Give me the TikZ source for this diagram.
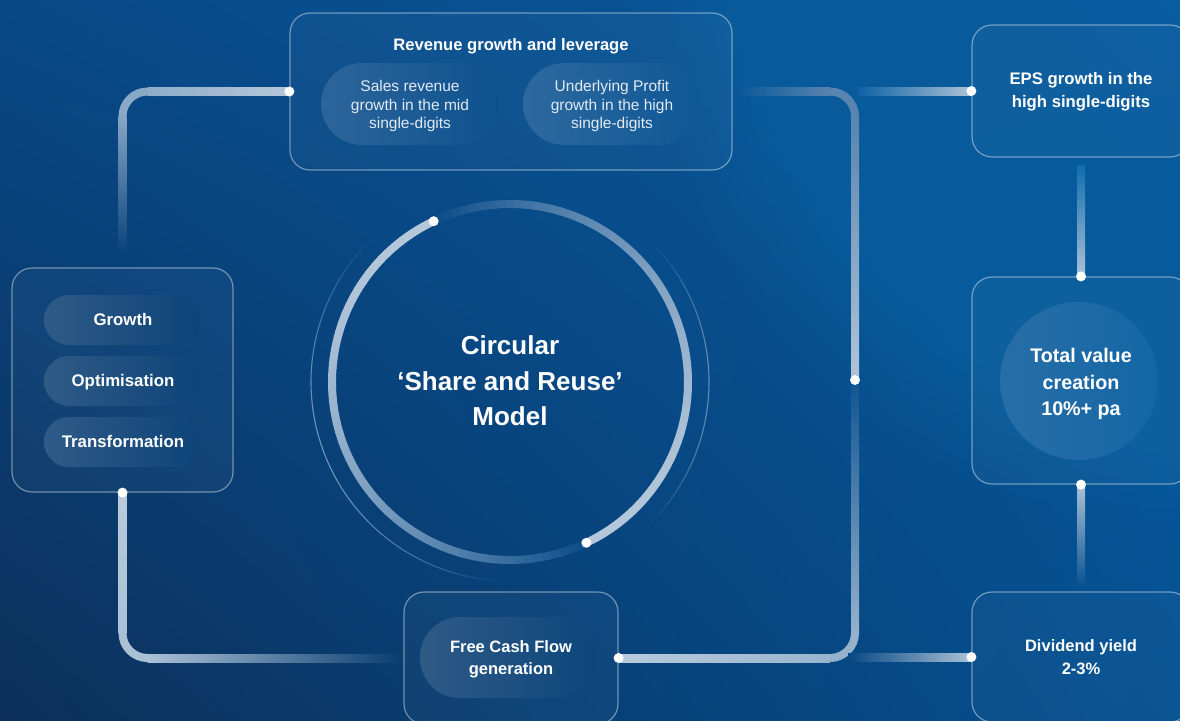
\documentclass[tikz,border=0pt]{standalone}
\usepackage{fontspec}
\setmainfont{Liberation Sans}
\usetikzlibrary{shadings}
\definecolor{lc}{RGB}{200,214,228}
\definecolor{bgc}{RGB}{7,73,136}
\definecolor{bgUL}{RGB}{8,72,135}
\definecolor{bgUR}{RGB}{8,92,160}
\definecolor{bgLL}{RGB}{12,48,90}
\definecolor{bgLR}{RGB}{4,80,146}
\definecolor{hl}{RGB}{28,140,205}
\definecolor{pillc}{RGB}{226,234,243}
% local background estimates
\definecolor{b1}{RGB}{9,66,123}
\definecolor{b2}{RGB}{9,61,112}
\definecolor{b3}{RGB}{7,78,141}
\definecolor{b4}{RGB}{10,88,153}
\definecolor{b5}{RGB}{13,98,164}
\definecolor{b6}{RGB}{6,72,132}
\definecolor{b7}{RGB}{15,108,174}
\definecolor{b8}{RGB}{5,80,144}
\definecolor{pA}{RGB}{8,74,137}
\definecolor{pB}{RGB}{8,78,140}
\definecolor{pC}{RGB}{8,78,141}
\definecolor{pD}{RGB}{9,84,148}
\definecolor{pE}{RGB}{10,61,113}
\definecolor{pF}{RGB}{9,64,118}
\definecolor{pG}{RGB}{9,61,112}
\definecolor{pH}{RGB}{8,66,121}
\definecolor{pI}{RGB}{10,90,155}
\definecolor{pJ}{RGB}{10,96,162}
\begin{document}
\begin{tikzpicture}[x=1pt,y=-1pt,
  box/.style={rectangle, draw=white, draw opacity=.42, line width=1.2pt, fill=white, fill opacity=.03, rounded corners=20pt, inner sep=0pt},
  cornerline/.style={line width=8pt},
  dot/.style={fill=white},
  t/.style={text=white, align=center, inner sep=0pt}]
\useasboundingbox (0,0) rectangle (1180,720);
\clip (0,0) rectangle (1180,720);
% background
\shade[upper left=bgUL, upper right=bgUR, lower left=bgLL, lower right=bgLR] (0,0) rectangle (1180,720);
\foreach \k in {1,...,40} \fill[hl, fill opacity=.02] (1180,0) circle ({13*\k});
% boxes
\node[box, minimum width=442pt, minimum height=157pt] (rev) at (511,91.5) {};
\node[box, minimum width=221pt, minimum height=224pt] (strat) at (122.5,380) {};
\node[box, minimum width=218pt, minimum height=132pt] (eps) at (1081,91) {};
\node[box, minimum width=218pt, minimum height=207pt] (tvc) at (1081,380.5) {};
\node[box, minimum width=218pt, minimum height=130pt] (div) at (1081,657) {};
\node[box, minimum width=214pt, minimum height=132pt] (fcf) at (511,658) {};
% pills
\shade[left color=white!15!pA, right color=white!2!pB, rounded corners=41pt] (321,63) rectangle (499,145);
\shade[left color=white!15!pC, right color=white!2!pD, rounded corners=41pt] (523,63) rectangle (701,145);
\shade[left color=white!15!pE, right color=white!2!pF, rounded corners=25pt] (44,295) rectangle (200,345);
\shade[left color=white!15!pE, right color=white!2!pF, rounded corners=25pt] (44,356) rectangle (200,406);
\shade[left color=white!15!pE, right color=white!2!pF, rounded corners=25pt] (44,417) rectangle (200,467);
\shade[left color=white!15!pG, right color=white!2!pH, rounded corners=40pt] (420,617) rectangle (598,698);
\shade[left color=white!12!pI, right color=white!4!pJ] (1079,381) circle (79);
% connectors
\coordinate (hub) at (855,380);
\shade[left color=lc!70!bgc, right color=lc!90!bgc] (147.5,87.5) rectangle (290,95.5);
\draw[cornerline, draw=lc!68!bgc] (147.5,91.5) arc[start angle=270, end angle=180, radius=25];
\shade[top color=lc!66!bgc, bottom color=b1] (118.5,116.5) rectangle (126.5,252);
\shade[top color=lc!92!bgc, bottom color=lc!85!bgc] (118.5,492) rectangle (126.5,633);
\draw[cornerline, draw=lc!85!bgc] (122.5,633) arc[start angle=180, end angle=90, radius=25];
\shade[left color=lc!85!bgc, middle color=lc!52!b2, right color=b2] (147.5,654) rectangle (402,662);
\shade[left color=lc!92!bgc, right color=lc!76!bgc] (618,654) rectangle (830,662);
\draw[cornerline, draw=lc!74!bgc] (830,658) arc[start angle=90, end angle=0, radius=25];
\shade[top color=lc!6!b3, middle color=lc!42!bgc, bottom color=lc!74!bgc] (851,385) rectangle (859,633);
\shade[top color=lc!42!bgc, bottom color=lc!88!bgc] (851,116.5) rectangle (859,380);
\draw[cornerline, draw=lc!42!bgc] (855,116.5) arc[start angle=0, end angle=-90, radius=25];
\shade[left color=b4, right color=lc!42!bgc] (738,87.5) rectangle (830,95.5);
\shade[left color=b5, right color=lc!86!bgc] (858,87) rectangle (972,95);
\shade[left color=b6, right color=lc!86!bgc] (848,653) rectangle (972,661);
\shade[top color=b7, bottom color=lc!86!bgc] (1077,165) rectangle (1085,277);
\shade[top color=lc!86!bgc, bottom color=b8] (1077,484) rectangle (1085,588);
% central rings
\coordinate (cc) at (510,382);
\foreach \i in {0,...,43}{
  \pgfmathsetmacro\a{226-3*\i}
  \pgfmathsetmacro\p{42*sin(180*(\i+0.5)/44)}
  \draw[line width=1.1pt, color=white!\p!bgc] (cc) ++(\a:199) arc[start angle=\a, delta angle=-3.05, radius=199];
}
\foreach \i in {0,...,29}{
  \pgfmathsetmacro\a{-45+3*\i}
  \pgfmathsetmacro\p{38*sin(180*(\i+0.5)/30)}
  \draw[line width=1.1pt, color=white!\p!bgc] (cc) ++(\a:199) arc[start angle=\a, delta angle=3.05, radius=199];
}
\foreach \i in {0,...,59}{
  \pgfmathsetmacro\a{244.6-3*\i}
  \pgfmathsetmacro\p{90*(1-(\i/60)^2)}
  \draw[line width=8pt, color=lc!\p!bgc] (cc) ++(\a:178) arc[start angle=\a, delta angle=-3.3, radius=178];
}
\foreach \i in {0,...,59}{
  \pgfmathsetmacro\a{64.6-3*\i}
  \pgfmathsetmacro\p{90*(1-(\i/60)^2)}
  \draw[line width=8pt, color=lc!\p!bgc] (cc) ++(\a:178) arc[start angle=\a, delta angle=-3.3, radius=178];
}
\path (cc) ++(244.6:178) coordinate (arcS);
\path (cc) ++(64.6:178) coordinate (arcE);
% dots
\foreach \d in {rev.west, strat.south, fcf.east, hub, eps.west, div.west, tvc.north, tvc.south, arcS, arcE}
  \fill[dot] (\d) circle (5);
% texts
\node[t, font=\bfseries\fontsize{16.6}{20}\selectfont, anchor=base] (revt) at (511,50) {Revenue growth and leverage};
\node[t, text=pillc, font=\fontsize{15.5}{18.3}\selectfont] (sales) at (410,106) {Sales revenue\\growth in the mid\\single-digits};
\node[t, text=pillc, font=\fontsize{15.5}{18.3}\selectfont] (upg) at (612,106) {Underlying Profit\\growth in the high\\single-digits};
\node[t, font=\bfseries\fontsize{16.8}{20}\selectfont, anchor=base] (gr) at (123,325) {Growth};
\node[t, font=\bfseries\fontsize{16.8}{20}\selectfont, anchor=base] (opt) at (123,386) {Optimisation};
\node[t, font=\bfseries\fontsize{16.8}{20}\selectfont, anchor=base] (trf) at (123,447) {Transformation};
\node[t, font=\bfseries\fontsize{26}{35.5}\selectfont] (core) at (510,381) {Circular\\‘Share and Reuse’\\Model};
\node[t, font=\bfseries\fontsize{16.7}{23}\selectfont] (epst) at (1081,92.2) {EPS growth in the\\high single-digits};
\node[t, font=\bfseries\fontsize{19.7}{26.5}\selectfont] (tvct) at (1081,384.3) {Total value\\creation\\10\%+ pa};
\node[t, font=\bfseries\fontsize{16.5}{23}\selectfont] (divt) at (1081,657.5) {Dividend yield\\2-3\%};
\node[t, font=\bfseries\fontsize{16.5}{22}\selectfont] (fcft) at (511,659.7) {Free Cash Flow\\generation};
\end{tikzpicture}
\end{document}
